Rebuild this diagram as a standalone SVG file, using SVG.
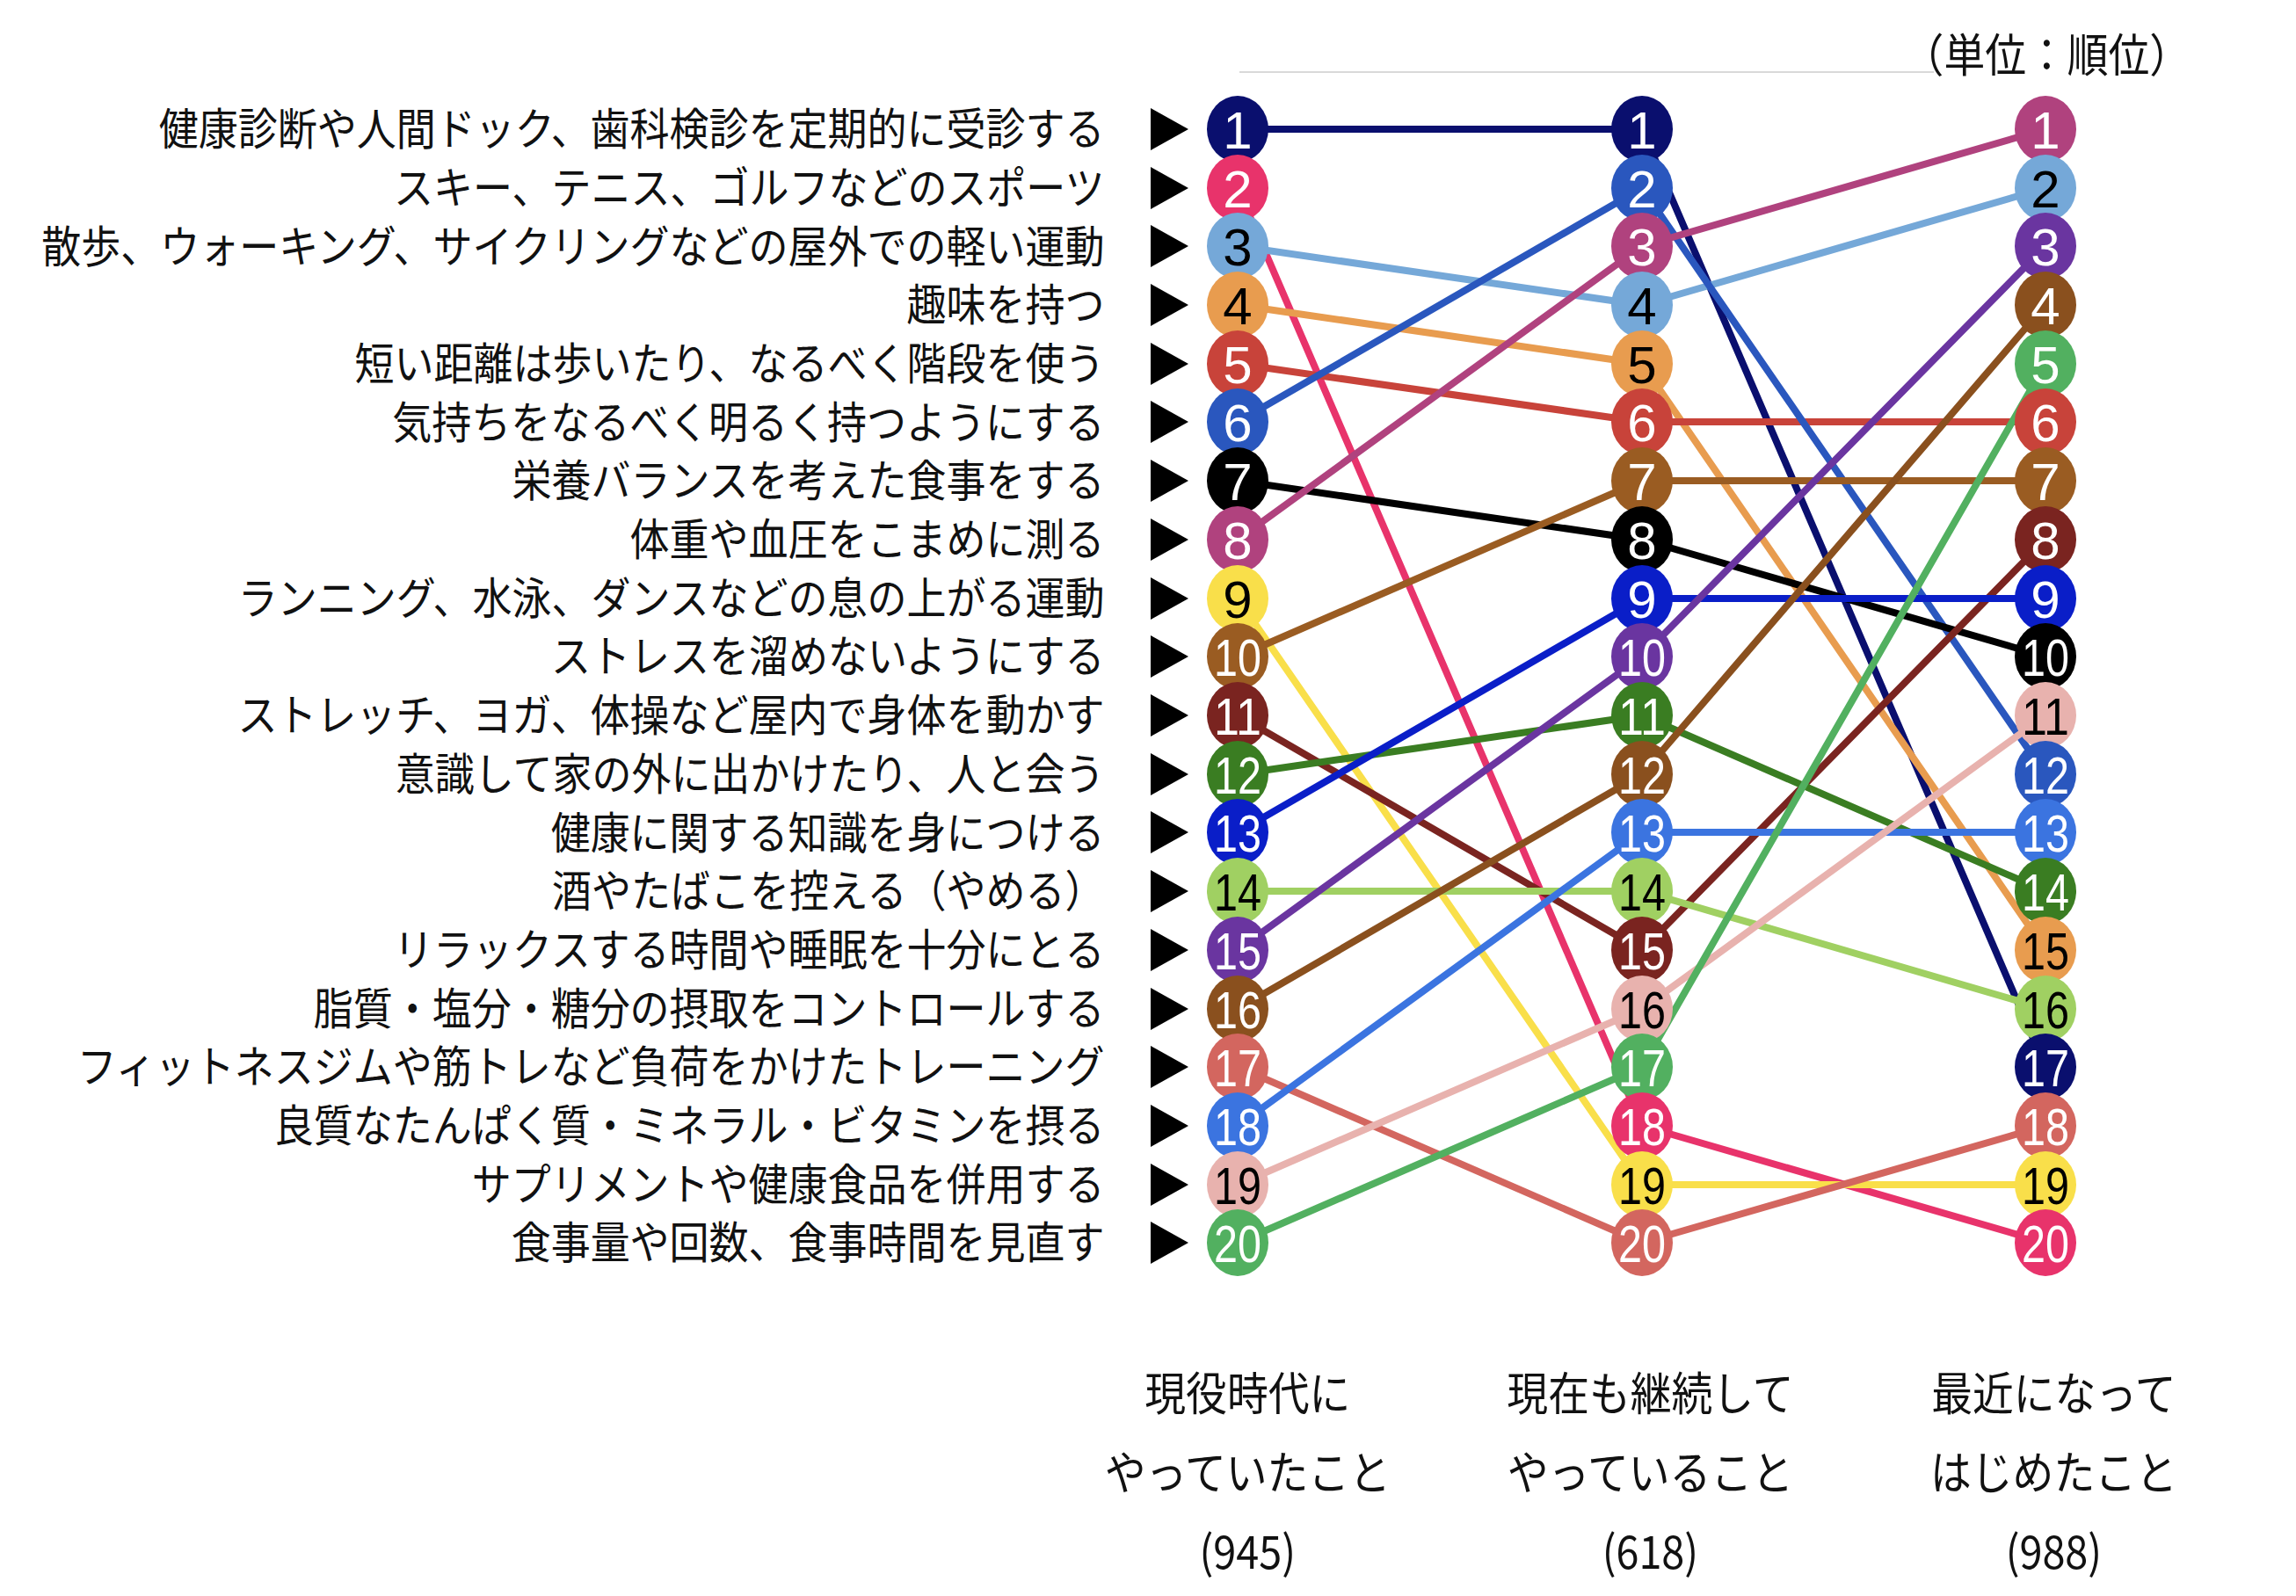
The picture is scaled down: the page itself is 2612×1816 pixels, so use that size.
<svg xmlns="http://www.w3.org/2000/svg" width="2612" height="1816" viewBox="0 0 2612 1816">
<style>
.lbl{font-family:"Noto Sans CJK JP","Noto Sans",sans-serif;font-size:50px;fill:#111;text-anchor:end}
.bot{font-family:"Noto Sans CJK JP","Noto Sans",sans-serif;font-size:52px;fill:#111;text-anchor:middle}
.n{font-family:"Liberation Sans","Noto Sans",sans-serif;font-size:60px;text-anchor:middle}
.w{fill:#fff}.b{fill:#000}
.c polyline{fill:none;stroke-width:8;stroke-linejoin:round}
</style>
<rect width="2612" height="1816" fill="#fff"/>
<line x1="1410" y1="82" x2="2200" y2="82" stroke="#d9d9d9" stroke-width="2"/>
<text transform="scale(0.9,1)" x="2769" y="82" style="font-family:'Noto Sans CJK JP',sans-serif;font-size:52px;text-anchor:end;fill:#111">（単位：順位）</text>
<g id="labels" transform="scale(0.9,1)">
<text class="lbl" x="1396" y="165">健康診断や人間ドック、歯科検診を定期的に受診する</text>
<text class="lbl" x="1396" y="232">スキー、テニス、ゴルフなどのスポーツ</text>
<text class="lbl" x="1396" y="299">散歩、ウォーキング、サイクリングなどの屋外での軽い運動</text>
<text class="lbl" x="1396" y="365">趣味を持つ</text>
<text class="lbl" x="1396" y="432">短い距離は歩いたり、なるべく階段を使う</text>
<text class="lbl" x="1396" y="499">気持ちをなるべく明るく持つようにする</text>
<text class="lbl" x="1396" y="565">栄養バランスを考えた食事をする</text>
<text class="lbl" x="1396" y="632">体重や血圧をこまめに測る</text>
<text class="lbl" x="1396" y="699">ランニング、水泳、ダンスなどの息の上がる運動</text>
<text class="lbl" x="1396" y="765">ストレスを溜めないようにする</text>
<text class="lbl" x="1396" y="832">ストレッチ、ヨガ、体操など屋内で身体を動かす</text>
<text class="lbl" x="1396" y="899">意識して家の外に出かけたり、人と会う</text>
<text class="lbl" x="1396" y="966">健康に関する知識を身につける</text>
<text class="lbl" x="1396" y="1032">酒やたばこを控える（やめる）</text>
<text class="lbl" x="1396" y="1099">リラックスする時間や睡眠を十分にとる</text>
<text class="lbl" x="1396" y="1166">脂質・塩分・糖分の摂取をコントロールする</text>
<text class="lbl" x="1396" y="1232">フィットネスジムや筋トレなど負荷をかけたトレーニング</text>
<text class="lbl" x="1396" y="1299">良質なたんぱく質・ミネラル・ビタミンを摂る</text>
<text class="lbl" x="1396" y="1366">サプリメントや健康食品を併用する</text>
<text class="lbl" x="1396" y="1432">食事量や回数、食事時間を見直す</text>
</g>
<g id="arrows" fill="#000">
<path d="M1309,123L1352,147L1309,171Z"/><path d="M1309,190L1352,214L1309,238Z"/><path d="M1309,256L1352,280L1309,304Z"/><path d="M1309,323L1352,347L1309,371Z"/><path d="M1309,390L1352,414L1309,438Z"/><path d="M1309,456L1352,480L1309,504Z"/><path d="M1309,523L1352,547L1309,571Z"/><path d="M1309,590L1352,614L1309,638Z"/><path d="M1309,657L1352,681L1309,705Z"/><path d="M1309,723L1352,747L1309,771Z"/><path d="M1309,790L1352,814L1309,838Z"/><path d="M1309,857L1352,881L1309,905Z"/><path d="M1309,923L1352,947L1309,971Z"/><path d="M1309,990L1352,1014L1309,1038Z"/><path d="M1309,1057L1352,1081L1309,1105Z"/><path d="M1309,1124L1352,1148L1309,1172Z"/><path d="M1309,1190L1352,1214L1309,1238Z"/><path d="M1309,1257L1352,1281L1309,1305Z"/><path d="M1309,1324L1352,1348L1309,1372Z"/><path d="M1309,1390L1352,1414L1309,1438Z"/>
</g>
<g id="connectors" class="c">
<polyline stroke="#0a0f6e" points="1408,147 1868,147 2327,1214"/>
<polyline stroke="#e8336b" points="1408,214 1868,1281 2327,1414"/>
<polyline stroke="#75a8d8" points="1408,280 1868,347 2327,214"/>
<polyline stroke="#e89c4f" points="1408,347 1868,414 2327,1081"/>
<polyline stroke="#c8433a" points="1408,414 1868,480 2327,480"/>
<polyline stroke="#2a57be" points="1408,480 1868,214 2327,881"/>
<polyline stroke="#000000" points="1408,547 1868,614 2327,747"/>
<polyline stroke="#b0427e" points="1408,614 1868,280 2327,147"/>
<polyline stroke="#f9df4a" points="1408,681 1868,1348 2327,1348"/>
<polyline stroke="#9a5c22" points="1408,747 1868,547 2327,547"/>
<polyline stroke="#7a2420" points="1408,814 1868,1081 2327,614"/>
<polyline stroke="#3a7d22" points="1408,881 1868,814 2327,1014"/>
<polyline stroke="#0a1ec8" points="1408,947 1868,681 2327,681"/>
<polyline stroke="#a0d062" points="1408,1014 1868,1014 2327,1148"/>
<polyline stroke="#6a35a0" points="1408,1081 1868,747 2327,280"/>
<polyline stroke="#8a501e" points="1408,1148 1868,881 2327,347"/>
<polyline stroke="#d3665f" points="1408,1214 1868,1414 2327,1281"/>
<polyline stroke="#3b74e0" points="1408,1281 1868,947 2327,947"/>
<polyline stroke="#e8b2ae" points="1408,1348 1868,1148 2327,814"/>
<polyline stroke="#52b060" points="1408,1414 1868,1214 2327,414"/>
</g>
<g id="col1">
<g id="a1"><ellipse cx="1408" cy="147" rx="35" ry="38" fill="#0a0f6e"/><text class="n w" x="1408" y="169">1</text></g>
<g id="a2"><ellipse cx="1408" cy="214" rx="35" ry="38" fill="#e8336b"/><text class="n w" x="1408" y="236">2</text></g>
<g id="a3"><ellipse cx="1408" cy="280" rx="35" ry="38" fill="#75a8d8"/><text class="n b" x="1408" y="302">3</text></g>
<g id="a4"><ellipse cx="1408" cy="347" rx="35" ry="38" fill="#e89c4f"/><text class="n b" x="1408" y="369">4</text></g>
<g id="a5"><ellipse cx="1408" cy="414" rx="35" ry="38" fill="#c8433a"/><text class="n w" x="1408" y="436">5</text></g>
<g id="a6"><ellipse cx="1408" cy="480" rx="35" ry="38" fill="#2a57be"/><text class="n w" x="1408" y="502">6</text></g>
<g id="a7"><ellipse cx="1408" cy="547" rx="35" ry="38" fill="#000"/><text class="n w" x="1408" y="569">7</text></g>
<g id="a8"><ellipse cx="1408" cy="614" rx="35" ry="38" fill="#b0427e"/><text class="n w" x="1408" y="636">8</text></g>
<g id="a9"><ellipse cx="1408" cy="681" rx="35" ry="38" fill="#f9df4a"/><text class="n b" x="1408" y="703">9</text></g>
<g id="a10"><ellipse cx="1408" cy="747" rx="35" ry="38" fill="#9a5c22"/><text class="n w" x="1408" y="769" textLength="54" lengthAdjust="spacingAndGlyphs">10</text></g>
<g id="a11"><ellipse cx="1408" cy="814" rx="35" ry="38" fill="#7a2420"/><text class="n w" x="1408" y="836" textLength="54" lengthAdjust="spacingAndGlyphs">11</text></g>
<g id="a12"><ellipse cx="1408" cy="881" rx="35" ry="38" fill="#3a7d22"/><text class="n w" x="1408" y="903" textLength="54" lengthAdjust="spacingAndGlyphs">12</text></g>
<g id="a13"><ellipse cx="1408" cy="947" rx="35" ry="38" fill="#0a1ec8"/><text class="n w" x="1408" y="969" textLength="54" lengthAdjust="spacingAndGlyphs">13</text></g>
<g id="a14"><ellipse cx="1408" cy="1014" rx="35" ry="38" fill="#a0d062"/><text class="n b" x="1408" y="1036" textLength="54" lengthAdjust="spacingAndGlyphs">14</text></g>
<g id="a15"><ellipse cx="1408" cy="1081" rx="35" ry="38" fill="#6a35a0"/><text class="n w" x="1408" y="1103" textLength="54" lengthAdjust="spacingAndGlyphs">15</text></g>
<g id="a16"><ellipse cx="1408" cy="1148" rx="35" ry="38" fill="#8a501e"/><text class="n w" x="1408" y="1170" textLength="54" lengthAdjust="spacingAndGlyphs">16</text></g>
<g id="a17"><ellipse cx="1408" cy="1214" rx="35" ry="38" fill="#d3665f"/><text class="n w" x="1408" y="1236" textLength="54" lengthAdjust="spacingAndGlyphs">17</text></g>
<g id="a18"><ellipse cx="1408" cy="1281" rx="35" ry="38" fill="#3b74e0"/><text class="n w" x="1408" y="1303" textLength="54" lengthAdjust="spacingAndGlyphs">18</text></g>
<g id="a19"><ellipse cx="1408" cy="1348" rx="35" ry="38" fill="#e8b2ae"/><text class="n b" x="1408" y="1370" textLength="54" lengthAdjust="spacingAndGlyphs">19</text></g>
<g id="a20"><ellipse cx="1408" cy="1414" rx="35" ry="38" fill="#52b060"/><text class="n w" x="1408" y="1436" textLength="54" lengthAdjust="spacingAndGlyphs">20</text></g>
</g>
<g id="col2">
<g id="b1"><ellipse cx="1868" cy="147" rx="35" ry="38" fill="#0a0f6e"/><text class="n w" x="1868" y="169">1</text></g>
<g id="b2"><ellipse cx="1868" cy="214" rx="35" ry="38" fill="#2a57be"/><text class="n w" x="1868" y="236">2</text></g>
<g id="b3"><ellipse cx="1868" cy="280" rx="35" ry="38" fill="#b0427e"/><text class="n w" x="1868" y="302">3</text></g>
<g id="b4"><ellipse cx="1868" cy="347" rx="35" ry="38" fill="#75a8d8"/><text class="n b" x="1868" y="369">4</text></g>
<g id="b5"><ellipse cx="1868" cy="414" rx="35" ry="38" fill="#e89c4f"/><text class="n b" x="1868" y="436">5</text></g>
<g id="b6"><ellipse cx="1868" cy="480" rx="35" ry="38" fill="#c8433a"/><text class="n w" x="1868" y="502">6</text></g>
<g id="b7"><ellipse cx="1868" cy="547" rx="35" ry="38" fill="#9a5c22"/><text class="n w" x="1868" y="569">7</text></g>
<g id="b8"><ellipse cx="1868" cy="614" rx="35" ry="38" fill="#000"/><text class="n w" x="1868" y="636">8</text></g>
<g id="b9"><ellipse cx="1868" cy="681" rx="35" ry="38" fill="#0a1ec8"/><text class="n w" x="1868" y="703">9</text></g>
<g id="b10"><ellipse cx="1868" cy="747" rx="35" ry="38" fill="#6a35a0"/><text class="n w" x="1868" y="769" textLength="54" lengthAdjust="spacingAndGlyphs">10</text></g>
<g id="b11"><ellipse cx="1868" cy="814" rx="35" ry="38" fill="#3a7d22"/><text class="n w" x="1868" y="836" textLength="54" lengthAdjust="spacingAndGlyphs">11</text></g>
<g id="b12"><ellipse cx="1868" cy="881" rx="35" ry="38" fill="#8a501e"/><text class="n w" x="1868" y="903" textLength="54" lengthAdjust="spacingAndGlyphs">12</text></g>
<g id="b13"><ellipse cx="1868" cy="947" rx="35" ry="38" fill="#3b74e0"/><text class="n w" x="1868" y="969" textLength="54" lengthAdjust="spacingAndGlyphs">13</text></g>
<g id="b14"><ellipse cx="1868" cy="1014" rx="35" ry="38" fill="#a0d062"/><text class="n b" x="1868" y="1036" textLength="54" lengthAdjust="spacingAndGlyphs">14</text></g>
<g id="b15"><ellipse cx="1868" cy="1081" rx="35" ry="38" fill="#7a2420"/><text class="n w" x="1868" y="1103" textLength="54" lengthAdjust="spacingAndGlyphs">15</text></g>
<g id="b16"><ellipse cx="1868" cy="1148" rx="35" ry="38" fill="#e8b2ae"/><text class="n b" x="1868" y="1170" textLength="54" lengthAdjust="spacingAndGlyphs">16</text></g>
<g id="b17"><ellipse cx="1868" cy="1214" rx="35" ry="38" fill="#52b060"/><text class="n w" x="1868" y="1236" textLength="54" lengthAdjust="spacingAndGlyphs">17</text></g>
<g id="b18"><ellipse cx="1868" cy="1281" rx="35" ry="38" fill="#e8336b"/><text class="n w" x="1868" y="1303" textLength="54" lengthAdjust="spacingAndGlyphs">18</text></g>
<g id="b19"><ellipse cx="1868" cy="1348" rx="35" ry="38" fill="#f9df4a"/><text class="n b" x="1868" y="1370" textLength="54" lengthAdjust="spacingAndGlyphs">19</text></g>
<g id="b20"><ellipse cx="1868" cy="1414" rx="35" ry="38" fill="#d3665f"/><text class="n w" x="1868" y="1436" textLength="54" lengthAdjust="spacingAndGlyphs">20</text></g>
</g>
<g id="col3">
<g id="c1"><ellipse cx="2327" cy="147" rx="35" ry="38" fill="#b0427e"/><text class="n w" x="2327" y="169">1</text></g>
<g id="c2"><ellipse cx="2327" cy="214" rx="35" ry="38" fill="#75a8d8"/><text class="n b" x="2327" y="236">2</text></g>
<g id="c3"><ellipse cx="2327" cy="280" rx="35" ry="38" fill="#6a35a0"/><text class="n w" x="2327" y="302">3</text></g>
<g id="c4"><ellipse cx="2327" cy="347" rx="35" ry="38" fill="#8a501e"/><text class="n w" x="2327" y="369">4</text></g>
<g id="c5"><ellipse cx="2327" cy="414" rx="35" ry="38" fill="#52b060"/><text class="n w" x="2327" y="436">5</text></g>
<g id="c6"><ellipse cx="2327" cy="480" rx="35" ry="38" fill="#c8433a"/><text class="n w" x="2327" y="502">6</text></g>
<g id="c7"><ellipse cx="2327" cy="547" rx="35" ry="38" fill="#9a5c22"/><text class="n w" x="2327" y="569">7</text></g>
<g id="c8"><ellipse cx="2327" cy="614" rx="35" ry="38" fill="#7a2420"/><text class="n w" x="2327" y="636">8</text></g>
<g id="c9"><ellipse cx="2327" cy="681" rx="35" ry="38" fill="#0a1ec8"/><text class="n w" x="2327" y="703">9</text></g>
<g id="c10"><ellipse cx="2327" cy="747" rx="35" ry="38" fill="#000"/><text class="n w" x="2327" y="769" textLength="54" lengthAdjust="spacingAndGlyphs">10</text></g>
<g id="c11"><ellipse cx="2327" cy="814" rx="35" ry="38" fill="#e8b2ae"/><text class="n b" x="2327" y="836" textLength="54" lengthAdjust="spacingAndGlyphs">11</text></g>
<g id="c12"><ellipse cx="2327" cy="881" rx="35" ry="38" fill="#2a57be"/><text class="n w" x="2327" y="903" textLength="54" lengthAdjust="spacingAndGlyphs">12</text></g>
<g id="c13"><ellipse cx="2327" cy="947" rx="35" ry="38" fill="#3b74e0"/><text class="n w" x="2327" y="969" textLength="54" lengthAdjust="spacingAndGlyphs">13</text></g>
<g id="c14"><ellipse cx="2327" cy="1014" rx="35" ry="38" fill="#3a7d22"/><text class="n w" x="2327" y="1036" textLength="54" lengthAdjust="spacingAndGlyphs">14</text></g>
<g id="c15"><ellipse cx="2327" cy="1081" rx="35" ry="38" fill="#e89c4f"/><text class="n b" x="2327" y="1103" textLength="54" lengthAdjust="spacingAndGlyphs">15</text></g>
<g id="c16"><ellipse cx="2327" cy="1148" rx="35" ry="38" fill="#a0d062"/><text class="n b" x="2327" y="1170" textLength="54" lengthAdjust="spacingAndGlyphs">16</text></g>
<g id="c17"><ellipse cx="2327" cy="1214" rx="35" ry="38" fill="#0a0f6e"/><text class="n w" x="2327" y="1236" textLength="54" lengthAdjust="spacingAndGlyphs">17</text></g>
<g id="c18"><ellipse cx="2327" cy="1281" rx="35" ry="38" fill="#d3665f"/><text class="n w" x="2327" y="1303" textLength="54" lengthAdjust="spacingAndGlyphs">18</text></g>
<g id="c19"><ellipse cx="2327" cy="1348" rx="35" ry="38" fill="#f9df4a"/><text class="n b" x="2327" y="1370" textLength="54" lengthAdjust="spacingAndGlyphs">19</text></g>
<g id="c20"><ellipse cx="2327" cy="1414" rx="35" ry="38" fill="#e8336b"/><text class="n w" x="2327" y="1436" textLength="54" lengthAdjust="spacingAndGlyphs">20</text></g>
</g>
<g id="headers" transform="scale(0.9,1)">
<text class="bot" x="1577" y="1605">現役時代に</text>
<text class="bot" x="1577" y="1695">やっていたこと</text>
<text class="bot" x="1577" y="1785">(945)</text>
<text class="bot" x="2086" y="1605">現在も継続して</text>
<text class="bot" x="2086" y="1695">やっていること</text>
<text class="bot" x="2086" y="1785">(618)</text>
<text class="bot" x="2596" y="1605">最近になって</text>
<text class="bot" x="2596" y="1695">はじめたこと</text>
<text class="bot" x="2596" y="1785">(988)</text>
</g>
</svg>
